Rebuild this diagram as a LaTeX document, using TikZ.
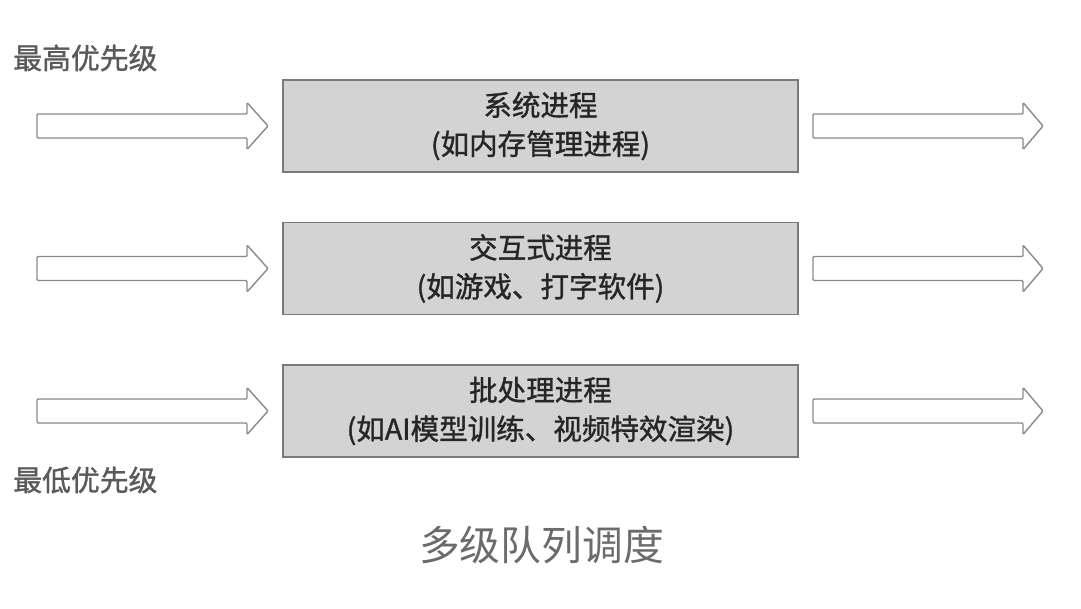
\documentclass[tikz,border=0pt]{standalone}
\usepackage{fontspec}
\setmainfont{Noto Sans CJK SC}
\newfontfamily\heavycjk{Noto Sans CJK SC}[FakeBold=1.2]
\usetikzlibrary{positioning}

\definecolor{boxfill}{HTML}{D3D3D3}
\definecolor{boxline}{HTML}{7A7A7A}
\definecolor{arrowline}{HTML}{8A8A8A}
\definecolor{labelgray}{HTML}{5A5A5A}

\begin{document}
\begin{tikzpicture}[
    x=0.025cm, y=-0.025cm,
    queue/.style={draw=boxline, fill=boxfill, line width=0.9pt,
        minimum width=12.875cm, minimum height=2.3cm, align=center,
        text=black!85, font=\heavycjk\fontsize{20.3pt}{27.6pt}\selectfont}, % Style for the queue boxes
    fatarrow/.style={draw=arrowline, fill=white, line width=1pt, rounded corners=0.8pt}, % Style for the hollow arrows
    side/.style={text=labelgray, font=\heavycjk\fontsize{20.5pt}{24pt}\selectfont, anchor=west, inner sep=0pt} % Style for the priority labels
]

% Canvas
\useasboundingbox (0,0) rectangle (1081,608);

% Queue boxes
\node[queue] (sys) at (540.5,126) {系统进程\\(如内存管理进程)};
\node[queue] (inter) at (540.5,268.5) {交互式进程\\(如游戏、打字软件)};
\node[queue] (batch) at (540.5,411) {批处理进程\\(如AI模型训练、视频特效渲染)};

% Hollow arrows in and out of each queue
\foreach \row in {126,268.5,411} {
    \draw[fatarrow] (37,\row-12) -- (247,\row-12) -- (247,\row-23.5) -- (268,\row)
        -- (247,\row+23.5) -- (247,\row+12) -- (37,\row+12) -- cycle;
    \draw[fatarrow] (813,\row-12) -- (1023,\row-12) -- (1023,\row-23.5) -- (1043,\row)
        -- (1023,\row+23.5) -- (1023,\row+12) -- (813,\row+12) -- cycle;
}

% Priority labels
\node[side] (high) at (13,58) {最高优先级};
\node[side] (low) at (13,480) {最低优先级};

% Caption
\node[text=labelgray!90, font=\fontsize{29pt}{34pt}\selectfont] (title) at (541.5,545) {多级队列调度};

\end{tikzpicture}
\end{document}
